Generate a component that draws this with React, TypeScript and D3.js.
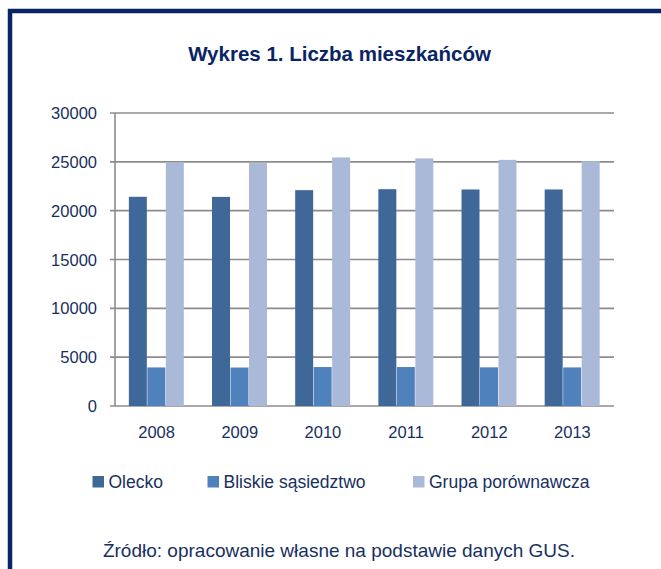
import React from 'react';
import * as d3 from 'd3';

// dane
const years = ['2008', '2009', '2010', '2011', '2012', '2013'];
const seriesNames = ['Olecko', 'Bliskie sąsiedztwo', 'Grupa porównawcza'];
const olecko = [21420, 21410, 22100, 22200, 22170, 22170];
const bliskie = [3950, 3940, 3990, 3990, 3960, 3950];
const grupa = [24950, 24870, 25450, 25350, 25200, 25070];
const yTicks = [0, 5000, 10000, 15000, 20000, 25000, 30000];

const colors = ['#3F6899', '#4F81BD', '#AAB9D7'];
const navy = '#17305F';
const font = '"Liberation Sans", Arial, sans-serif';

export default function App() {
  const width = 661;
  const height = 569;
  const left = 115;
  const right = 614;
  const top = 113;
  const bottom = 406;

  const series = [olecko, bliskie, grupa];

  const x = d3.scaleBand().domain(years).range([left, right]).paddingInner(0.333).paddingOuter(0.1665);
  const xInner = d3.scaleBand().domain(seriesNames).range([0, x.bandwidth()]);
  const y = d3.scaleLinear().domain([0, 30000]).range([bottom, top]);

  const legendX = [92.5, 207.5, 413];

  return (
    <svg width={width} height={height} style={{ position: 'absolute', left: 0, top: 0, background: '#fff' }}>
      <rect x={0} y={0} width={width} height={height} fill="#fff" />
      <rect x={10} y={11} width={720} height={640} fill="none" stroke="#082465" strokeWidth={4.5} />

      <text x={339.5} y={61} textAnchor="middle" fontFamily={font} fontWeight="bold" fontSize={20.5} fill="#082465">
        Wykres 1. Liczba mieszkańców
      </text>

      {/* siatka */}
      {yTicks.map(t => (
        <g key={t}>
          <line x1={left - 5} x2={right} y1={y(t)} y2={y(t)} stroke="#8C8C8C" strokeWidth={1.6} />
          <text x={97} y={y(t) + 6} textAnchor="end" fontFamily={font} fontSize={16.5} fill={navy}>
            {t}
          </text>
        </g>
      ))}
      <line x1={left} x2={left} y1={top} y2={bottom} stroke="#8C8C8C" strokeWidth={1.6} />

      {/* słupki */}
      {years.map((yr, i) => (
        <g key={yr} transform={`translate(${x(yr)},0)`}>
          {series.map((s, j) => (
            <rect
              key={j}
              x={xInner(seriesNames[j])}
              y={y(s[i])}
              width={xInner.bandwidth() - 0.5}
              height={y(0) - y(s[i])}
              fill={colors[j]}
            />
          ))}
          <text x={x.bandwidth() / 2} y={438} textAnchor="middle" fontFamily={font} fontSize={16.5} fill={navy}>
            {yr}
          </text>
        </g>
      ))}

      {/* legenda */}
      {seriesNames.map((n, j) => (
        <g key={n}>
          <rect x={legendX[j]} y={476} width={11.5} height={11.5} fill={colors[j]} />
          <text x={legendX[j] + 16} y={487.5} fontFamily={font} fontSize={17.5} fill={navy}>
            {n}
          </text>
        </g>
      ))}

      <text x={339} y={557} textAnchor="middle" fontFamily={font} fontSize={19} fill={navy}>
        Źródło: opracowanie własne na podstawie danych GUS.
      </text>
    </svg>
  );
}
